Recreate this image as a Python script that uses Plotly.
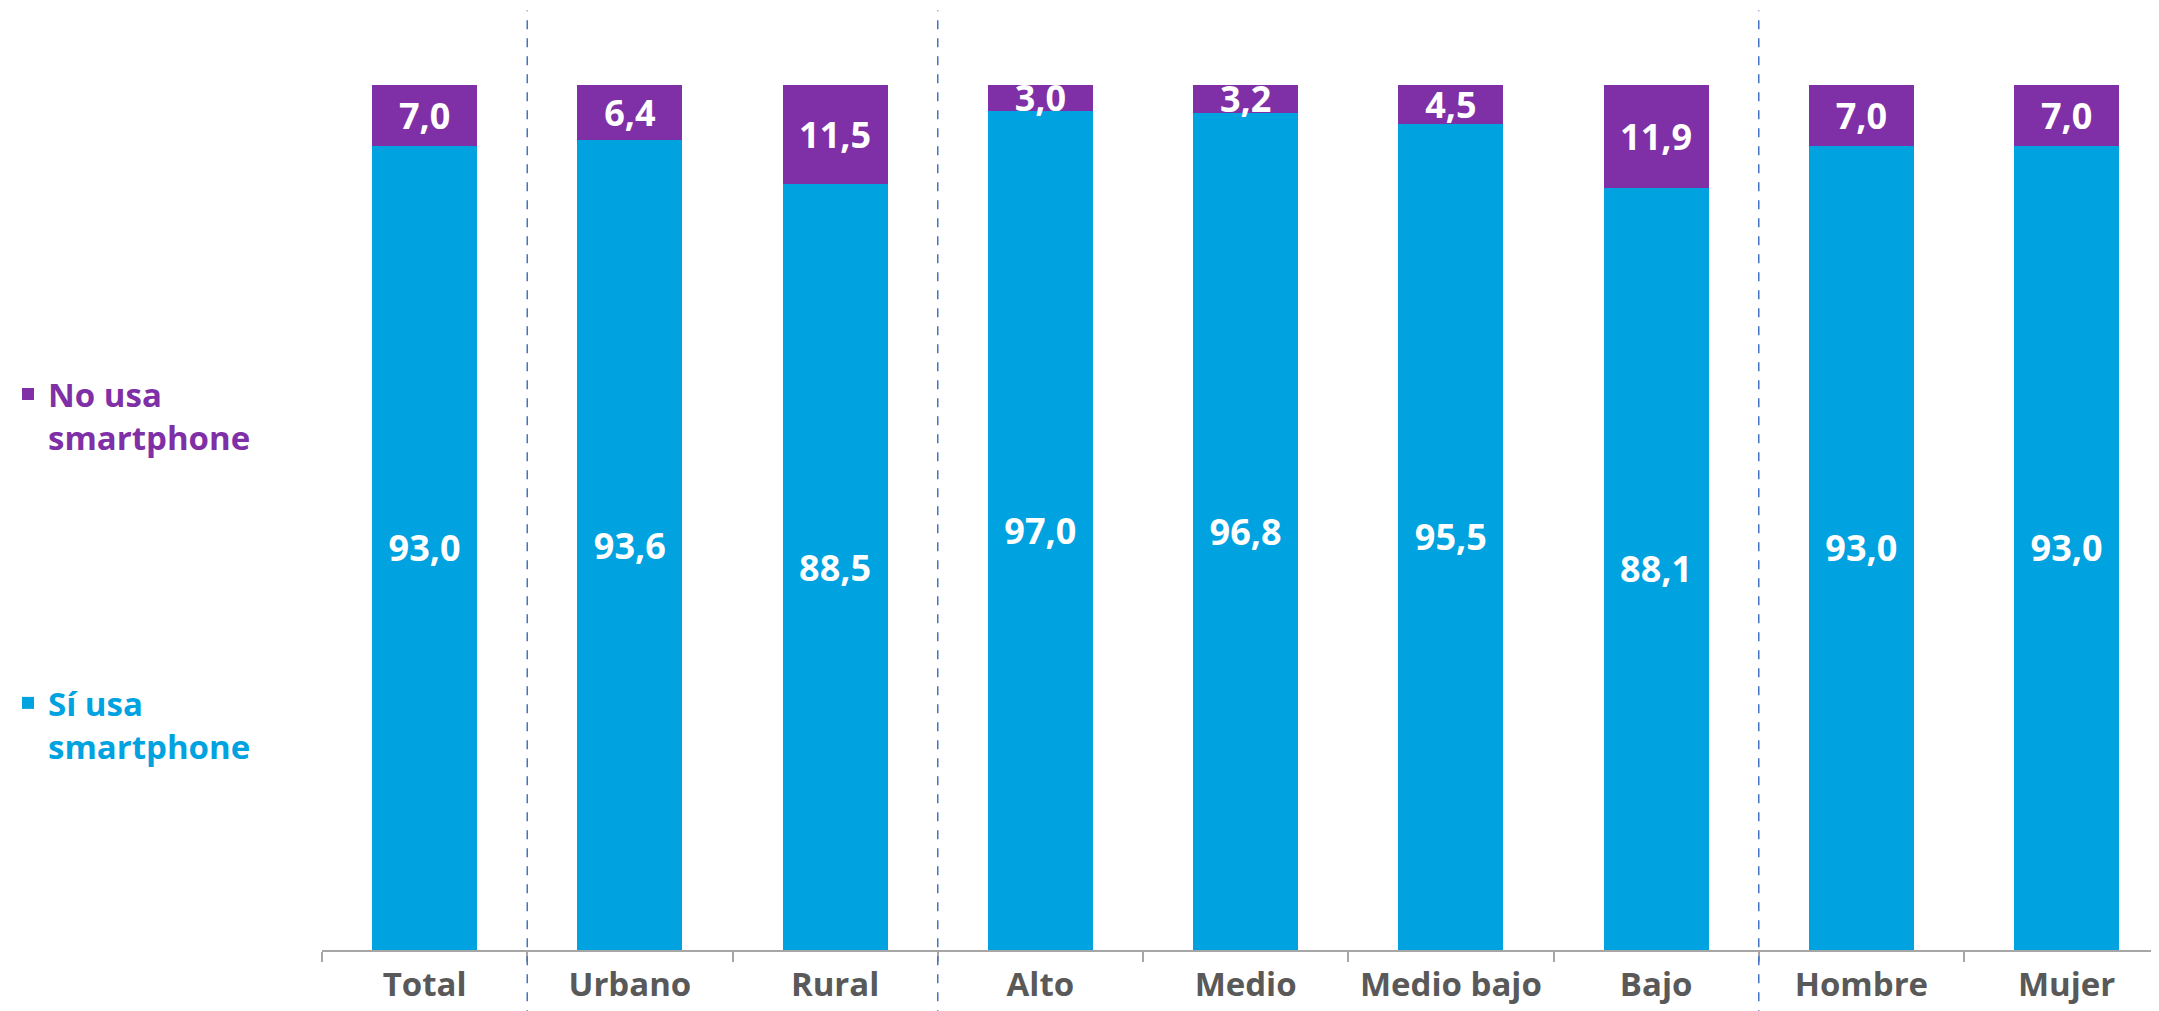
import plotly.graph_objects as go

# ── Data ─────────────────────────────────────────────
CATEGORIES = ["Total", "Urbano", "Rural", "Alto", "Medio", "Medio bajo",
              "Bajo", "Hombre", "Mujer"]
SI_USA = [93.0, 93.6, 88.5, 97.0, 96.8, 95.5, 88.1, 93.0, 93.0]
NO_USA = [7.0, 6.4, 11.5, 3.0, 3.2, 4.5, 11.9, 7.0, 7.0]
GROUP_BREAKS = [0.5, 2.5, 6.5]

# ── Styling ──────────────────────────────────────────
BLUE = "#00A2E0"
PURPLE = "#7F30A6"
GREY_TEXT = "#595959"
FONT = "Open Sans, sans-serif"


def fmt(v):
    return f"{v:.1f}".replace(".", ",")


fig = go.Figure()
fig.add_trace(go.Bar(
    x=CATEGORIES, y=SI_USA,
    name=f"<span style='color:{BLUE}'>Sí usa<br>smartphone</span>",
    legendgroup="si", legendrank=2,
    marker=dict(color=BLUE, line=dict(width=0)),
    text=[fmt(v) for v in SI_USA],
    textposition="inside", insidetextanchor="middle",
    textangle=0, constraintext="none",
    textfont=dict(family=FONT, size=36, color="white", weight="bold"),
))
fig.add_trace(go.Bar(
    x=CATEGORIES, y=NO_USA,
    name=f"<span style='color:{PURPLE}'>No usa<br>smartphone</span>",
    legendgroup="no", legendrank=1,
    marker=dict(color=PURPLE, line=dict(width=0)),
    text=[fmt(v) for v in NO_USA],
    textposition="inside", insidetextanchor="middle",
    textangle=0, constraintext="none",
    textfont=dict(family=FONT, size=36, color="white", weight="bold"),
))

for xb in GROUP_BREAKS:
    fig.add_shape(
        type="line", xref="x", yref="paper",
        x0=xb, x1=xb, y0=-0.08, y1=1.086,
        line=dict(color="#4472C4", width=1.5, dash="dash"),
    )

# page has an 8px body margin, so the figure is shifted by that much
fig.update_layout(
    barmode="stack",
    bargap=0.488,
    width=2151, height=1003,
    margin=dict(l=314, r=0, t=77, b=61),
    plot_bgcolor="white",
    paper_bgcolor="white",
    font=dict(family=FONT, size=32, color=GREY_TEXT),
    legend=dict(
        x=-0.171, xanchor="left", y=0.675, yanchor="top",
        traceorder="grouped",
        tracegroupgap=220,
        valign="top",
        font=dict(family=FONT, size=33, weight="bold"),
        bgcolor="rgba(0,0,0,0)",
    ),
)
# the last category runs slightly past the right edge in the original
fig.update_xaxes(
    range=[-0.5, 8.45],
    automargin=False,
    showline=True, linecolor="#A6A6A6", linewidth=1.5,
    ticks="outside", tickson="boundaries", ticklen=10,
    tickcolor="#A6A6A6", tickwidth=1.5,
    ticklabelstandoff=5,
    tickfont=dict(family=FONT, size=33, color=GREY_TEXT, weight="bold"),
    showgrid=False,
)
fig.update_yaxes(range=[0, 100], visible=False, showgrid=False)

fig.write_html("out.html")
